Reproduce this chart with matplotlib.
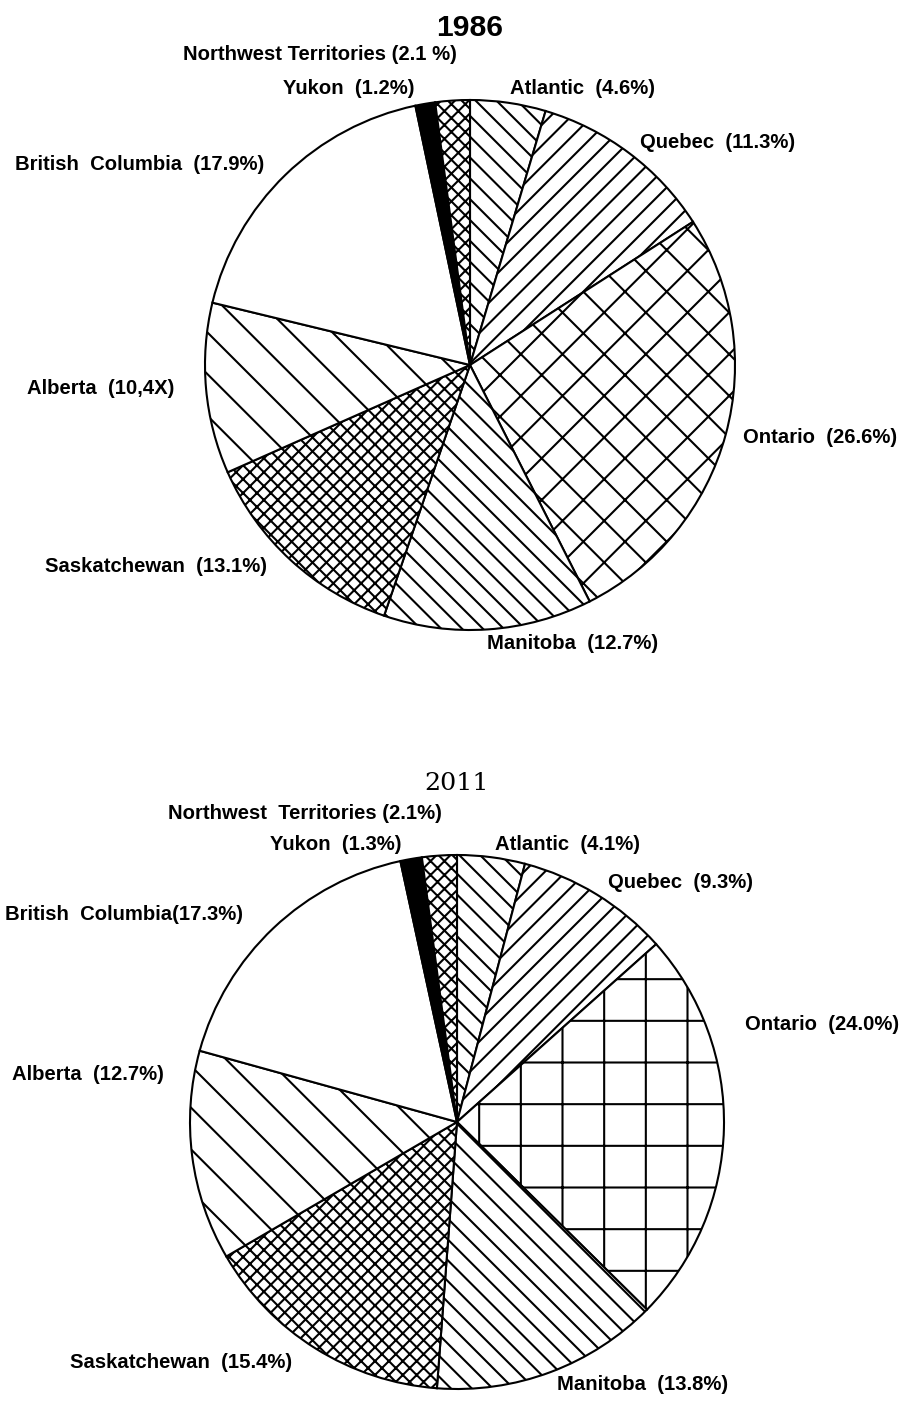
import matplotlib.pyplot as plt

# regions in the order they are drawn, clockwise from 12 o'clock
regions = ["Atlantic", "Quebec", "Ontario", "Manitoba", "Saskatchewan",
           "Alberta", "British Columbia", "Yukon", "Northwest Territories"]
share_1986 = [4.6, 11.3, 26.6, 12.7, 13.1, 10.4, 17.9, 1.2, 2.1]
share_2011 = [4.1, 9.3, 24.0, 13.8, 15.4, 12.7, 17.3, 1.3, 2.1]

# label texts as printed on the original
labels_1986 = ["Atlantic  (4.6%)", "Quebec  (11.3%)", "Ontario  (26.6%)",
               "Manitoba  (12.7%)", "Saskatchewan  (13.1%)", "Alberta  (10,4X)",
               "British  Columbia  (17.9%)", "Yukon  (1.2%)",
               "Northwest Territories (2.1 %)"]
labels_2011 = ["Atlantic  (4.1%)", "Quebec  (9.3%)", "Ontario  (24.0%)",
               "Manitoba  (13.8%)", "Saskatchewan  (15.4%)", "Alberta  (12.7%)",
               "British  Columbia(17.3%)", "Yukon  (1.3%)",
               "Northwest  Territories (2.1%)"]

# --- layout (pixels of the 905x1401 image) ---
W, H, DPI = 905, 1401, 250
FACES = ["white"] * 7 + ["black", "white"]
# diagonal hatches are half as dense as '+' ones, hence the doubled chars
HATCH_1986 = ["\\" * 4, "/" * 4, "xx", "\\" * 4, "x" * 6, "\\" * 2, "", "", "x" * 6]
HATCH_2011 = ["\\" * 4, "/" * 4, "+", "\\" * 4, "x" * 6, "\\" * 2, "", "", "x" * 6]

LAB_POS_1986 = [(510, 88), (640, 143), (743, 438), (487, 643), (45, 567),
                (27, 388), (15, 165), (283, 88), (183, 55)]
LAB_POS_2011 = [(495, 845), (608, 883), (745, 1025), (557, 1384), (70, 1362),
                (12, 1074), (5, 915), (270, 845), (168, 813)]

plt.rcParams["hatch.linewidth"] = 0.6
fig = plt.figure(figsize=(W / DPI, H / DPI), dpi=DPI)


def fx(x):
    return x / W


def fy(y):
    return 1 - y / H


def draw_pie(cx, cy, r, values, hatches):
    ax = fig.add_axes([fx(cx - r), fy(cy + r), 2 * r / W, 2 * r / H])
    ax.pie(values, startangle=90, counterclock=False, colors=FACES,
           hatch=hatches, wedgeprops=dict(edgecolor="black", linewidth=0.6))
    ax.set_xlim(-1, 1)
    ax.set_ylim(-1, 1)
    ax.axis("off")
    return ax


def draw_labels(labels, pos):
    for txt, (x, y) in zip(labels, pos):
        fig.text(fx(x), fy(y), txt, ha="left", va="center", fontsize=5.85,
                 family="Liberation Sans", weight="bold")


draw_pie(470, 365, 265, share_1986, HATCH_1986)
draw_pie(457, 1122, 267, share_2011, HATCH_2011)

fig.text(fx(470), fy(28), "1986", ha="center", va="center", fontsize=8.7,
         family="Liberation Sans", weight="bold")
fig.text(fx(457), fy(783), "2011", ha="center", va="center", fontsize=7.3,
         family="DejaVu Serif")

draw_labels(labels_1986, LAB_POS_1986)
draw_labels(labels_2011, LAB_POS_2011)

fig.savefig("out.png", dpi=DPI, facecolor="white")
